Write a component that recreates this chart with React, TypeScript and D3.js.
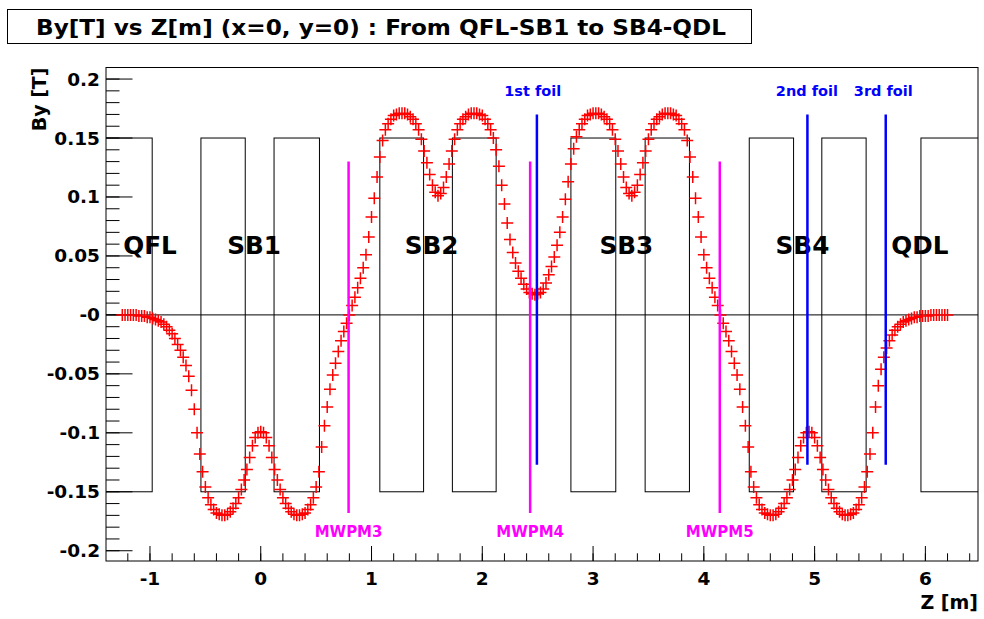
import React from 'react';
import * as d3 from 'd3';

const title = "By[T] vs Z[m] (x=0, y=0) : From QFL-SB1 to SB4-QDL";

// field samples, By [T] on a 0.025 m grid starting at z = -1.25 m
const zStart = -1.25;
const zStep = 0.025;
const byValues = [
  0.000, 0.000, 0.000, 0.000, 0.000, 0.000, -0.001, -0.001, // -1.25
  -0.001, -0.002, -0.002, -0.003, -0.004, -0.005, -0.006, -0.008, // -1.05
  -0.010, -0.013, -0.016, -0.020, -0.025, -0.030, -0.036, -0.043, // -0.85
  -0.052, -0.064, -0.080, -0.100, -0.118, -0.133, -0.146, -0.155, // -0.65
  -0.161, -0.165, -0.168, -0.169, -0.170, -0.170, -0.169, -0.167, // -0.45
  -0.164, -0.160, -0.155, -0.148, -0.140, -0.131, -0.121, -0.111, // -0.25
  -0.104, -0.100, -0.099, -0.100, -0.104, -0.111, -0.121, -0.131, // -0.05
  -0.140, -0.148, -0.155, -0.160, -0.164, -0.167, -0.169, -0.170, // 0.15
  -0.170, -0.169, -0.168, -0.165, -0.161, -0.155, -0.146, -0.133, // 0.35
  -0.112, -0.094, -0.078, -0.063, -0.051, -0.041, -0.031, -0.022, // 0.55
  -0.014, -0.007, 0.000, 0.008, 0.015, 0.023, 0.031, 0.040, // 0.75
  0.051, 0.066, 0.083, 0.099, 0.117, 0.134, 0.148, 0.157, // 0.95
  0.162, 0.166, 0.169, 0.170, 0.171, 0.171, 0.171, 0.170, // 1.15
  0.168, 0.166, 0.162, 0.157, 0.149, 0.139, 0.129, 0.119, // 1.35
  0.110, 0.104, 0.101, 0.103, 0.108, 0.117, 0.128, 0.139, // 1.55
  0.149, 0.157, 0.162, 0.166, 0.168, 0.170, 0.171, 0.171, // 1.75
  0.171, 0.170, 0.169, 0.166, 0.162, 0.157, 0.150, 0.140, // 1.95
  0.126, 0.110, 0.094, 0.078, 0.064, 0.053, 0.044, 0.037, // 2.15
  0.031, 0.026, 0.022, 0.019, 0.018, 0.017, 0.018, 0.019, // 2.35
  0.022, 0.027, 0.034, 0.041, 0.049, 0.059, 0.070, 0.083, // 2.55
  0.098, 0.113, 0.128, 0.141, 0.151, 0.157, 0.162, 0.166, // 2.75
  0.169, 0.170, 0.171, 0.171, 0.171, 0.170, 0.168, 0.166, // 2.95
  0.162, 0.157, 0.149, 0.139, 0.128, 0.117, 0.108, 0.103, // 3.15
  0.101, 0.104, 0.110, 0.119, 0.129, 0.139, 0.149, 0.157, // 3.35
  0.162, 0.166, 0.168, 0.170, 0.171, 0.171, 0.171, 0.170, // 3.55
  0.169, 0.166, 0.162, 0.157, 0.148, 0.134, 0.117, 0.099, // 3.75
  0.083, 0.066, 0.051, 0.040, 0.031, 0.023, 0.015, 0.008, // 3.95
  0.000, -0.007, -0.014, -0.022, -0.031, -0.041, -0.051, -0.063, // 4.15
  -0.078, -0.094, -0.112, -0.133, -0.146, -0.155, -0.161, -0.165, // 4.35
  -0.168, -0.169, -0.170, -0.170, -0.169, -0.167, -0.164, -0.160, // 4.55
  -0.155, -0.148, -0.140, -0.131, -0.121, -0.111, -0.104, -0.100, // 4.75
  -0.099, -0.100, -0.104, -0.111, -0.121, -0.131, -0.140, -0.148, // 4.95
  -0.155, -0.160, -0.164, -0.167, -0.169, -0.170, -0.170, -0.169, // 5.15
  -0.168, -0.165, -0.161, -0.155, -0.146, -0.133, -0.118, -0.100, // 5.35
  -0.078, -0.060, -0.046, -0.036, -0.028, -0.022, -0.017, -0.013, // 5.55
  -0.010, -0.008, -0.006, -0.005, -0.004, -0.003, -0.002, -0.002, // 5.75
  -0.001, -0.001, -0.001, -0.001, 0.000, 0.000, 0.000, 0.000, // 5.95
  0.000, 0.000, 0.000 // 6.15
];

// magnet outlines (coil boxes) and names
const coilStart = [-1.6, -0.54, 0.12, 1.075, 1.73, 2.8, 3.47, 4.41, 5.065, 5.96];
const coilEnd = [-0.98, -0.14, 0.53, 1.47, 2.125, 3.205, 3.87, 4.81, 5.465, 7.0];
const coilHeight = 0.15;
const magnetNames = ["QFL", "SB1", "SB2", "SB3", "SB4", "QDL"];
const magnetLabelZ = [-1.0, -0.06, 1.543, 3.3, 4.89, 5.95];
const magnetLabelBy = 0.052;

// wire profile monitors
const monitorNames = ["MWPM3", "MWPM4", "MWPM5"];
const monitorZ = [0.793, 2.432, 4.144];
const monitorRange = [-0.168, 0.13];
const monitorLabelBy = -0.188;

// foils
const foilNames = ["1st foil", "2nd foil", "3rd foil"];
const foilZ = [2.493, 4.935, 5.642];
const foilLabelZ = [2.455, 4.93, 5.62];
const foilRange = [-0.127, 0.17];
const foilLabelBy = 0.1856;

const xTickValues = [-1, 0, 1, 2, 3, 4, 5, 6];
const xTickLabels = ["-1", "0", "1", "2", "3", "4", "5", "6"];
const yTickValues = [-0.2, -0.15, -0.1, -0.05, 0, 0.05, 0.1, 0.15, 0.2];
const yTickLabels = ["-0.2", "-0.15", "-0.1", "-0.05", "-0", "0.05", "0.1", "0.15", "0.2"];

const W = 984, H = 619;
const frame = { left: 106, right: 978, top: 67.5, bottom: 561 };
const font = "'DejaVu Sans', sans-serif";

export default function App() {
  const x = d3.scaleLinear().domain([-1.397, 6.475]).range([frame.left, frame.right]);
  const y = d3.scaleLinear().domain([-0.2087, 0.2098]).range([frame.bottom, frame.top]);

  const xMinor = x.ticks(40);
  const yMinor = y.ticks(40);

  const pts = byValues.map((v, i) => [zStart + i * zStep, v]);
  const s = 6;
  const crosses = pts.map(([z, v]) => {
    const cx = x(z), cy = y(v);
    return `M${cx - s},${cy}H${cx + s}M${cx},${cy - s}V${cy + s}`;
  }).join("");

  return (
    <svg width={W} height={H} style={{ position: "fixed", left: 0, top: 0, background: "#fff" }}
      fontFamily={font} fontWeight="bold">
      <defs>
        <clipPath id="frameClip">
          <rect x={frame.left} y={frame.top} width={frame.right - frame.left} height={frame.bottom - frame.top} />
        </clipPath>
      </defs>
      <rect x={0} y={0} width={W} height={H} fill="#fff" />

      {/* title box */}
      <rect x={7.5} y={9.5} width={744} height={34} fill="#fff" stroke="#000" strokeWidth={1} />
      <text x={381} y={35} textAnchor="middle" fontSize={21.5} textLength={690}
        lengthAdjust="spacingAndGlyphs">{title}</text>

      {/* frame */}
      <rect x={frame.left} y={frame.top} width={frame.right - frame.left} height={frame.bottom - frame.top}
        fill="none" stroke="#000" strokeWidth={1} />

      {/* axis ticks */}
      <g stroke="#000" strokeWidth={1}>
        {yMinor.map((t, i) => (
          <line key={"ym" + i} x1={frame.left} x2={frame.left + 13.5} y1={y(t)} y2={y(t)} />
        ))}
        {yTickValues.map((t, i) => (
          <line key={"yM" + i} x1={frame.left} x2={frame.left + 26.5} y1={y(t)} y2={y(t)} />
        ))}
        {xMinor.map((t, i) => (
          <line key={"xm" + i} x1={x(t)} x2={x(t)} y1={frame.bottom} y2={frame.bottom - 7.7} />
        ))}
        {xTickValues.map((t, i) => (
          <line key={"xM" + i} x1={x(t)} x2={x(t)} y1={frame.bottom} y2={frame.bottom - 15} />
        ))}
      </g>
      <g fontSize={18.5}>
        {yTickValues.map((t, i) => (
          <text key={"yl" + i} x={100} y={y(t) + 6.5} textAnchor="end">{yTickLabels[i]}</text>
        ))}
        {xTickValues.map((t, i) => (
          <text key={"xl" + i} x={x(t)} y={585} textAnchor="middle">{xTickLabels[i]}</text>
        ))}
      </g>
      <text x={frame.right} y={609} textAnchor="end" fontSize={19}>Z [m]</text>
      <text transform={`translate(46,${frame.top}) rotate(-90)`} textAnchor="end" fontSize={19}>By [T]</text>

      {/* magnets and zero line */}
      <g clipPath="url(#frameClip)" fill="none" stroke="#000" strokeWidth={1}>
        {coilStart.map((z0, i) => (
          <rect key={"c" + i} x={x(z0)} y={y(coilHeight)} width={x(coilEnd[i]) - x(z0)}
            height={y(-coilHeight) - y(coilHeight)} />
        ))}
        <line x1={frame.left} x2={frame.right} y1={y(0)} y2={y(0)} />
      </g>
      <g fontSize={24.7} textAnchor="middle">
        {magnetNames.map((n, i) => (
          <text key={n} x={x(magnetLabelZ[i])} y={y(magnetLabelBy)}>{n}</text>
        ))}
      </g>

      {/* field data */}
      <path d={crosses} fill="none" stroke="#ff0000" strokeWidth={1.5} />

      {/* monitors */}
      <g stroke="#ff00ff" strokeWidth={2.5}>
        {monitorZ.map((z, i) => (
          <line key={"m" + i} x1={x(z)} x2={x(z)} y1={y(monitorRange[0])} y2={y(monitorRange[1])} />
        ))}
      </g>
      <g fontSize={15} fill="#ff00ff" textAnchor="middle">
        {monitorNames.map((n, i) => (
          <text key={n} x={x(monitorZ[i])} y={y(monitorLabelBy)}>{n}</text>
        ))}
      </g>

      {/* foils */}
      <g stroke="#0000ff" strokeWidth={2.5}>
        {foilZ.map((z, i) => (
          <line key={"f" + i} x1={x(z)} x2={x(z)} y1={y(foilRange[0])} y2={y(foilRange[1])} />
        ))}
      </g>
      <g fontSize={14.5} fill="#0000ff" textAnchor="middle">
        {foilNames.map((n, i) => (
          <text key={n} x={x(foilLabelZ[i])} y={y(foilLabelBy)}>{n}</text>
        ))}
      </g>
    </svg>
  );
}
